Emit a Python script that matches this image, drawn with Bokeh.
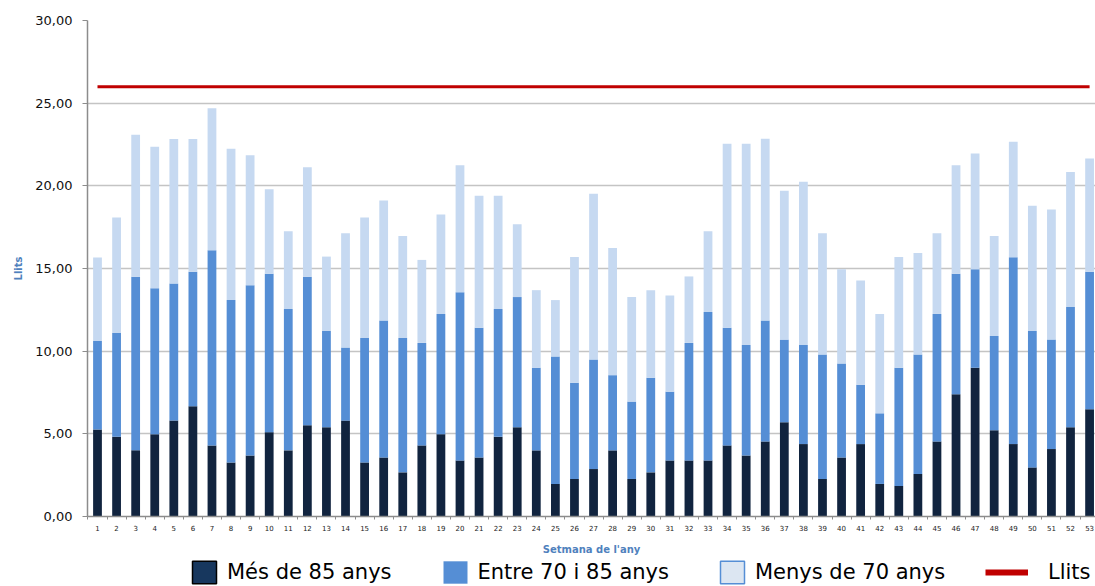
from bokeh.plotting import figure
from bokeh.layouts import column
from bokeh.models import (ColumnDataSource, FixedTicker, Legend, LegendItem,
                          CustomJSTickFormatter, Range1d)
from bokeh.embed import file_html
from bokeh.resources import INLINE

weeks = list(range(1, 54))

mes_85 = [5.26, 4.82, 4.00, 4.98, 5.80, 6.67, 4.30, 3.27, 3.69, 5.10,
          4.00, 5.52, 5.40, 5.80, 3.27, 3.57, 2.67, 4.30, 4.98, 3.39,
          3.57, 4.82, 5.40, 4.00, 1.97, 2.27, 2.87, 4.00, 2.27, 2.67,
          3.39, 3.39, 3.39, 4.30, 3.69, 4.54, 5.70, 4.38, 2.27, 3.57,
          4.38, 1.97, 1.85, 2.57, 4.54, 7.39, 9.00, 5.22, 4.38, 2.97,
          4.08, 5.40, 6.49]

entre_70_85 = [5.36, 6.28, 10.50, 8.82, 8.30, 8.13, 11.80, 9.82, 10.29, 9.58,
               8.55, 8.98, 5.82, 4.42, 7.53, 8.28, 8.13, 6.20, 7.27, 10.18,
               7.84, 7.73, 7.87, 5.00, 7.71, 5.82, 6.63, 4.55, 4.68, 5.72,
               4.16, 7.11, 8.98, 7.11, 6.69, 7.31, 5.00, 6.00, 7.53, 5.69,
               3.59, 4.27, 7.15, 7.23, 7.71, 7.29, 5.96, 5.70, 11.30, 8.25,
               6.62, 7.27, 8.31]

menys_70 = [5.04, 6.99, 8.59, 8.57, 8.73, 8.03, 8.60, 9.16, 7.87, 5.12,
            4.70, 6.62, 4.50, 6.91, 7.29, 7.27, 6.17, 5.02, 6.02, 7.67,
            7.99, 6.85, 4.40, 4.69, 3.41, 7.61, 10.02, 7.69, 6.32, 5.30,
            5.82, 4.02, 4.88, 11.14, 12.17, 11.00, 9.00, 9.86, 7.33, 5.70,
            6.31, 6.01, 6.70, 6.14, 4.88, 6.56, 6.99, 6.05, 6.99, 7.58,
            7.87, 8.17, 6.85]

llits = 26.0

series_labels = ["Més de 85 anys", "Entre 70 i 85 anys", "Menys de 70 anys", "Llits"]
y_ticks = [0, 5, 10, 15, 20, 25, 30]

bar_colors = ["#11243f", "#558ed5", "#c6d9f1"]
blue_title = "#4f81bd"
FONT = "DejaVu Sans"

src = ColumnDataSource(dict(week=weeks, m85=mes_85, e70=entre_70_85, m70=menys_70,
                            llits=[llits] * len(weeks)))

p = figure(width=1095, height=557,
           x_range=Range1d(0.476, 53.31), y_range=Range1d(0, 30),
           output_backend="svg", toolbar_location=None,
           min_border_left=87, min_border_right=0,
           min_border_top=20, min_border_bottom=40)
p.outline_line_color = None
p.background_fill_color = "white"
p.border_fill_color = "white"

p.vbar_stack(["m85", "e70", "m70"], x="week", width=0.46, source=src,
             fill_color=bar_colors, line_color=None)

p.line(x="week", y="llits", source=src, line_color="#c00000", line_width=3)

# x axis
p.xaxis.ticker = FixedTicker(ticks=weeks,
                             minor_ticks=[w - 0.5 for w in weeks] + [weeks[-1] + 0.5])
p.xaxis.major_tick_out = 0
p.xaxis.major_tick_in = 0
p.xaxis.minor_tick_out = 3
p.xaxis.minor_tick_in = 0
p.xaxis.minor_tick_line_color = "#8c8c8c"
p.xaxis.axis_line_color = "#8c8c8c"
p.xaxis.axis_line_width = 1.5
p.xaxis.major_label_text_font = FONT
p.xaxis.major_label_text_font_size = "7px"
p.xaxis.major_label_text_color = "#222222"
p.xaxis.major_label_standoff = 5
p.xaxis.axis_label = "Setmana de l'any"
p.xaxis.axis_label_text_font = FONT
p.xaxis.axis_label_text_font_style = "bold"
p.xaxis.axis_label_text_font_size = "10px"
p.xaxis.axis_label_text_color = blue_title
p.xaxis.axis_label_standoff = 10
p.xgrid.grid_line_color = None

# y axis
p.yaxis.ticker = FixedTicker(ticks=y_ticks, minor_ticks=[])
p.yaxis.formatter = CustomJSTickFormatter(code="return tick.toFixed(2).replace('.', ',');")
p.yaxis.major_tick_out = 5
p.yaxis.major_tick_in = 0
p.yaxis.major_tick_line_color = "#8c8c8c"
p.yaxis.minor_tick_line_color = None
p.yaxis.axis_line_color = "#8c8c8c"
p.yaxis.axis_line_width = 1.5
p.yaxis.major_label_text_font = FONT
p.yaxis.major_label_text_font_size = "13px"
p.yaxis.major_label_text_color = "#111111"
p.yaxis.major_label_standoff = 10
p.yaxis.axis_label = "Llits"
p.yaxis.axis_label_text_font = FONT
p.yaxis.axis_label_text_font_style = "bold"
p.yaxis.axis_label_text_font_size = "10px"
p.yaxis.axis_label_text_color = blue_title
p.yaxis.axis_label_standoff = 8
p.ygrid.grid_line_color = "#c4c4c4"
p.ygrid.grid_line_width = 1.5

# legend strip below the chart: swatch renderers reuse the data, but the
# strip's ranges lie far away from it, so only the legend swatches show
lg = figure(width=1095, height=29, x_range=Range1d(-1054, -1000),
            y_range=Range1d(1000, 1001),
            output_backend="svg", toolbar_location=None,
            x_axis_location=None, y_axis_location=None,
            min_border_left=0, min_border_right=0,
            min_border_top=0, min_border_bottom=0)
lg.outline_line_color = None
lg.xgrid.visible = False
lg.ygrid.visible = False
lg.background_fill_color = "white"
lg.border_fill_color = "white"

sw1 = lg.vbar(x="week", top="m85", width=0.5, source=src,
              fill_color="#17375e", line_color="#000000", line_width=1.5)
sw2 = lg.vbar(x="week", top="e70", width=0.5, source=src,
              fill_color="#558ed5", line_color=None)
sw3 = lg.vbar(x="week", top="m70", width=0.5, source=src,
              fill_color="#dce6f2", line_color="#558ed5", line_width=1.5)
sw4 = lg.line(x="week", y="llits", source=src, line_color="#c00000", line_width=6)

common = dict(orientation="horizontal", padding=0, margin=0,
              border_line_color=None, background_fill_alpha=0,
              label_text_font=FONT, label_text_font_size="21px",
              label_text_color="#000000")

# the strip's frame is aligned with the chart frame (left edge at 87 px)
leg1 = Legend(items=[LegendItem(label=series_labels[0], renderers=[sw1]),
                     LegendItem(label=series_labels[1], renderers=[sw2]),
                     LegendItem(label=series_labels[2], renderers=[sw3])],
              location=(102, 0), glyph_width=30, glyph_height=28,
              label_standoff=8, spacing=48, **common)
leg2 = Legend(items=[LegendItem(label=series_labels[3], renderers=[sw4])],
              location=(898, 0), glyph_width=43, glyph_height=28,
              label_standoff=20, spacing=0, **common)
lg.add_layout(leg1)
lg.add_layout(leg2)

layout = column(p, lg, spacing=0)

open("out.html", "w").write(file_html(layout, INLINE))
